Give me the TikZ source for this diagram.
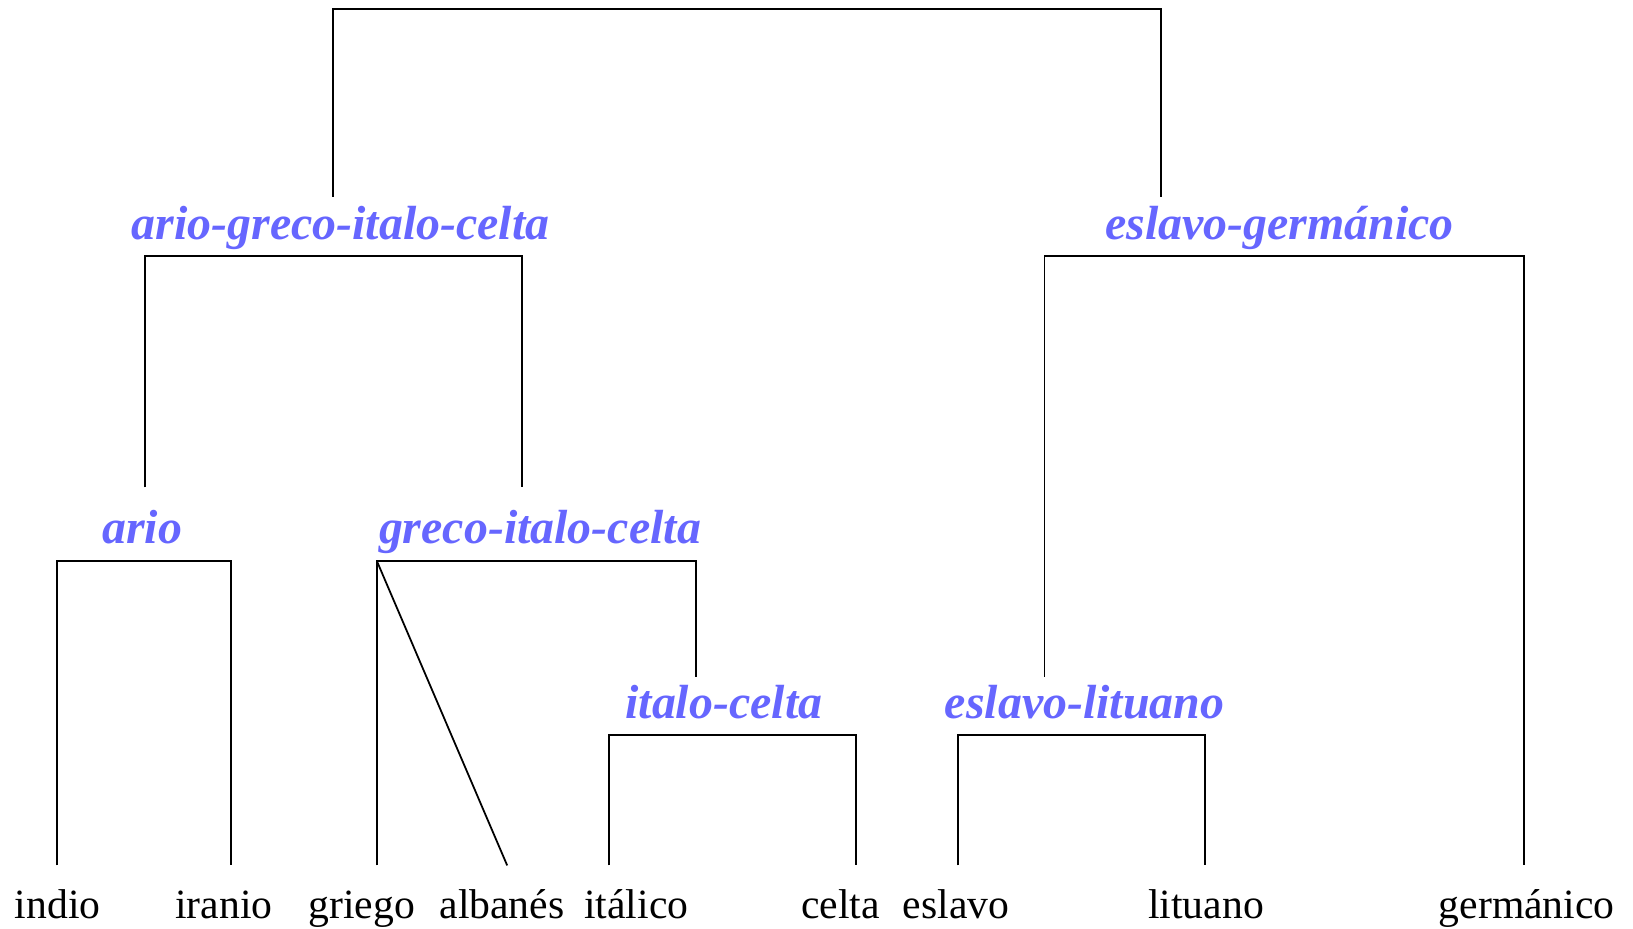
\documentclass[tikz,border=0pt]{standalone}
\usepackage{fontspec}
\setmainfont{Liberation Serif}
\definecolor{grpblue}{RGB}{102,102,255}
\begin{document}
\begin{tikzpicture}[x=0.5pt,y=-0.5pt, line width=0.85pt,
  leaf/.style={anchor=base, inner sep=0pt, font=\fontsize{20}{24}\selectfont},
  grouplabel/.style={anchor=base, inner sep=0pt, text=grpblue, font=\fontsize{23}{27}\selectfont\bfseries\itshape},
  link/.style={draw=black, line cap=butt}]
\useasboundingbox (0,0) rectangle (1568,892);
% leaf labels
\node[leaf] (indio)   at (55.5,882) {indio};
\node[leaf] (iranio)  at (215,882) {iranio};
\node[leaf] (griego)  at (347.5,882) {griego};
\node[leaf] (albanes) at (482,882) {albanés};
\node[leaf] (italico) at (611,882) {itálico};
\node[leaf] (celta)   at (807,882) {celta};
\node[leaf] (eslavo)  at (918,882) {eslavo};
\node[leaf] (lituano) at (1158,882) {lituano};
\node[leaf] (germ)    at (1466,882) {germánico};
% group labels
\node[grouplabel] (agic) at (327,230) {ario-greco-italo-celta};
\node[grouplabel] (eg)   at (1228.5,230) {eslavo-germánico};
\node[grouplabel] (ario) at (136.5,522) {ario};
\node[grouplabel] (gic)  at (518.5,522) {greco-italo-celta};
\node[grouplabel] (ic)   at (695,690) {italo-celta};
\node[grouplabel] (el)   at (1041.5,690) {eslavo-lituano};
% connector end points
\coordinate (rootbar) at (0,9);
\coordinate (agicT) at (320,189);
\coordinate (egT)   at (1115,189);
\coordinate (agicbar) at (0,246);
\coordinate (ariT) at (139,468);
\coordinate (gicT) at (501,468);
\coordinate (egbar) at (0,246);
\coordinate (elT) at (1003,650);
\coordinate (germT) at (1463,831);
\coordinate (ariobar) at (0,539);
\coordinate (indioT) at (55,831);
\coordinate (iranioT) at (222,831);
\coordinate (gicbar) at (0,539);
\coordinate (griegoT) at (362,831);
\coordinate (albanesT) at (487,831);
\coordinate (icT) at (668,650);
\coordinate (icbar) at (0,706);
\coordinate (italicoT) at (585,831);
\coordinate (celtaT) at (822,831);
\coordinate (elbar) at (0,706);
\coordinate (eslavoT) at (920,831);
\coordinate (lituanoT) at (1157,831);
% brackets
\draw[link] (agicT) -- (agicT |- rootbar) -- (egT |- rootbar) -- (egT);
\draw[link] (ariT) -- (ariT |- agicbar) -- (gicT |- agicbar) -- (gicT);
\draw[link] (elT) -- (elT |- egbar) -- (germT |- egbar) -- (germT);
\draw[link] (indioT) -- (indioT |- ariobar) -- (iranioT |- ariobar) -- (iranioT);
\draw[link] (griegoT) -- (griegoT |- gicbar) -- (icT |- gicbar) -- (icT);
\draw[link] (griegoT |- gicbar) -- (albanesT);
\draw[link] (italicoT) -- (italicoT |- icbar) -- (celtaT |- icbar) -- (celtaT);
\draw[link] (eslavoT) -- (eslavoT |- elbar) -- (lituanoT |- elbar) -- (lituanoT);
\end{tikzpicture}
\end{document}
